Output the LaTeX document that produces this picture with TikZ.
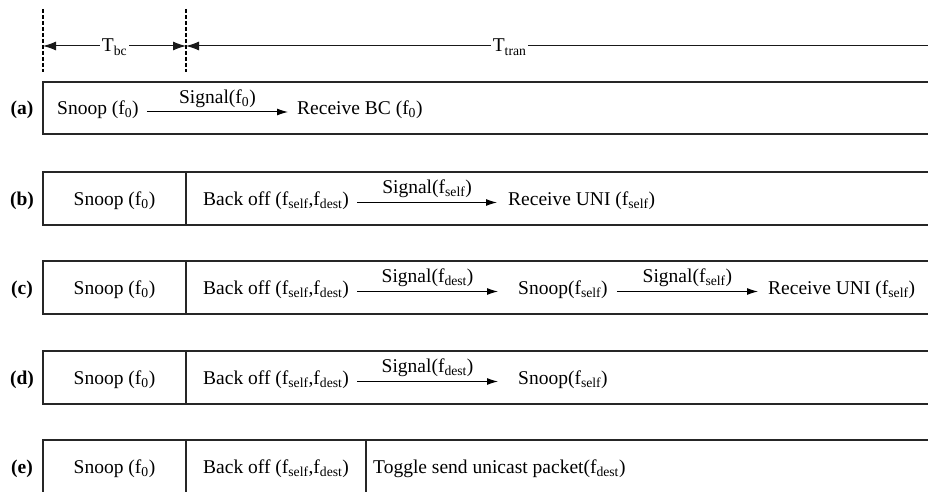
\documentclass[tikz,border=0pt]{standalone}
\usepackage{fontspec}
\setmainfont{Liberation Serif}
\usetikzlibrary{arrows.meta}
\newcommand{\sbs}[1]{\textsubscript{#1}}
\begin{document}
\begin{tikzpicture}[x=1pt,y=-1pt,
  txt/.style={inner sep=0pt, font=\fontsize{19.5}{23}\selectfont},
  lbl/.style={inner sep=0pt, font=\fontsize{19.5}{23}\selectfont\bfseries, anchor=base},
  rowbox/.style={line width=1.3pt, draw=black!85},
  sig/.style={line width=1pt, -{Latex[length=11pt,width=7pt]}},
  sl/.style={txt, midway, anchor=base, yshift=9pt},
  vd/.style={line width=1.3pt, dash pattern=on 4pt off 2pt},
  tarr/.style={line width=1pt, draw=black!90},
  tl/.style={txt, anchor=base, yshift=-6pt, fill=white, inner xsep=2pt}
]
\useasboundingbox (0,0) rectangle (928,492);
\clip (0,0) rectangle (928,492);

% time axis
\coordinate (d1t) at (43,9);
\coordinate (d1b) at (43,72);
\coordinate (d2t) at (186,9);
\coordinate (d2b) at (186,72);
\draw[vd] (d1t) -- (d1b);
\draw[vd] (d2t) -- (d2b);
\coordinate (tbL) at (43,46);
\coordinate (tbR) at (186,46);
\coordinate (ttR) at (945,46);
\draw[tarr, {Latex[length=13pt,width=9pt]}-{Latex[length=13pt,width=9pt]}] (tbL) -- node[tl, pos=0.5] {T\sbs{bc}} (tbR);
\draw[tarr, {Latex[length=13pt,width=9pt]}-] (tbR) -- node[tl, pos=0.4264] {T\sbs{tran}} (ttR);

% row boxes
\foreach \t/\b in {82/134, 172/225, 261/314, 351/404, 440/496}{
  \draw[rowbox] (945,\t) -- (43,\t) -- (43,\b) -- (945,\b);
}
\foreach \t/\b in {172/225, 261/314, 351/404, 440/496}{
  \draw[rowbox] (186,\t) -- (186,\b);
}
\draw[rowbox] (366,440) -- (366,496);

% labels
\node[lbl] (la) at (22,114.5) {(a)};
\node[lbl] (lb) at (22,205) {(b)};
\node[lbl] (lc) at (22,294) {(c)};
\node[lbl] (ld) at (22,384) {(d)};
\node[lbl] (le) at (22,473) {(e)};

% row (a)
\node[txt, anchor=base west] (a1) at (57,114.5) {Snoop (f\sbs{0})};
\node[txt, anchor=base west] (a2) at (297,114.5) {Receive BC (f\sbs{0})};
\draw[sig] ([xshift=8pt,yshift=2.5pt]a1.base east) -- node[sl] {Signal(f\sbs{0})} ([xshift=-9pt,yshift=2.5pt]a2.base west);

% row (b)
\node[txt, anchor=base] (b1) at (114.5,205) {Snoop (f\sbs{0})};
\node[txt, anchor=base west] (b2) at (203,205) {Back off (f\sbs{self},f\sbs{dest})};
\node[txt, anchor=base west] (b3) at (508,205) {Receive UNI (f\sbs{self})};
\draw[sig] ([xshift=8pt,yshift=2.5pt]b2.base east) -- node[sl] {Signal(f\sbs{self})} ([xshift=-11pt,yshift=2.5pt]b3.base west);

% row (c)
\node[txt, anchor=base] (c1) at (114.5,294) {Snoop (f\sbs{0})};
\node[txt, anchor=base west] (c2) at (203,294) {Back off (f\sbs{self},f\sbs{dest})};
\node[txt, anchor=base west] (c3) at (518,294) {Snoop(f\sbs{self})};
\node[txt, anchor=base west] (c4) at (768,294) {Receive UNI (f\sbs{self})};
\draw[sig] ([xshift=8pt,yshift=2.5pt]c2.base east) -- node[sl] {Signal(f\sbs{dest})} ([xshift=-20pt,yshift=2.5pt]c3.base west);
\draw[sig] ([xshift=9pt,yshift=2.5pt]c3.base east) -- node[sl] {Signal(f\sbs{self})} ([xshift=-10pt,yshift=2.5pt]c4.base west);

% row (d)
\node[txt, anchor=base] (d1) at (114.5,384) {Snoop (f\sbs{0})};
\node[txt, anchor=base west] (d2) at (203,384) {Back off (f\sbs{self},f\sbs{dest})};
\node[txt, anchor=base west] (d3) at (518,384) {Snoop(f\sbs{self})};
\draw[sig] ([xshift=8pt,yshift=2.5pt]d2.base east) -- node[sl] {Signal(f\sbs{dest})} ([xshift=-20pt,yshift=2.5pt]d3.base west);

% row (e)
\node[txt, anchor=base] (e1) at (114.5,473) {Snoop (f\sbs{0})};
\node[txt, anchor=base west] (e2) at (203,473) {Back off (f\sbs{self},f\sbs{dest})};
\node[txt, anchor=base west] (e3) at (373,473) {Toggle send unicast packet(f\sbs{dest})};
\end{tikzpicture}
\end{document}
